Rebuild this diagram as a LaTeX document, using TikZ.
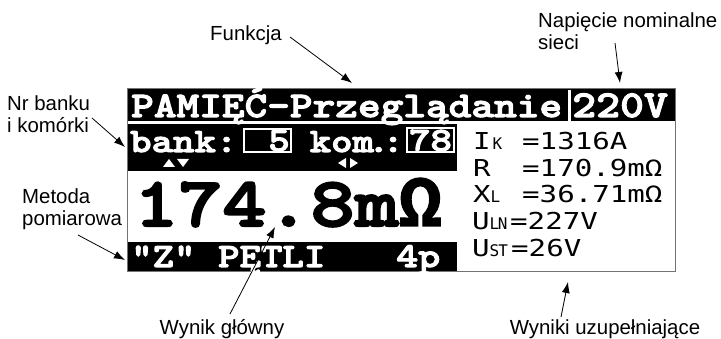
\documentclass[tikz,border=0pt]{standalone}
\usepackage{fontspec}
\setmainfont{Liberation Sans}
\newfontfamily\lcdmono[FakeStretch=1.2,FakeBold=3]{lmmonolt10-bold.otf}
\newfontfamily\lcdomega[FakeBold=1.5]{Liberation Mono}
\newfontfamily\lcdthin[FakeStretch=1.25]{DejaVu Sans Mono}
\newfontfamily\lcdsub{DejaVu Sans Mono}
\usetikzlibrary{arrows.meta}

\newcommand\lcdfont[1]{\lcdmono\fontsize{#1}{#1}\selectfont}
\newcommand\sub[1]{{\lcdsub\fontsize{16}{16}\selectfont #1}}

\tikzset{
	lbl/.style={font=\fontsize{20.4}{22}\selectfont, align=left, inner sep=0pt},
	ptr/.style={-{Latex[length=11pt,width=8pt]}, line width=0.8pt},
	lcd/.style={text=white, inner sep=0pt, anchor=base west},
	res/.style={inner sep=0pt, anchor=base west, font=\lcdthin\fontsize{23.3}{24}\selectfont},
}

\begin{document}
\begin{tikzpicture}[x=1pt,y=-1pt]
			\useasboundingbox (0,0) rectangle (721,339);
			
			\fill[black] (128,89) rectangle (675,121);
			\fill[white] (568,90) rectangle (570.5,121);
			\fill[black] (128,124) rectangle (457,171);
			\fill[black] (128,242) rectangle (457,272);
			\draw[black!55, line width=1pt] (127.5,88.5) rectangle (675,272);
			
			\node[lcd, font=\lcdfont{36}] (title) at (131,117) {PAMIĘĆ-Przeglądanie};
			\node[lcd, font=\lcdfont{38}] (nominal) at (572,117) {220V};
			
			\node[lcd, font=\lcdfont{34}] (bank) at (130,152) {bank:};
			\draw[white, line width=2pt] (244,129) rectangle (291,152);
			\node[lcd, font=\lcdfont{34}, anchor=base east] (banknr) at (290,151) {5};
			\node[lcd, font=\lcdfont{34}, anchor=base east] (kom) at (404,152) {kom\kern-6pt.\kern-7pt:};
			\draw[white, line width=2pt] (407,128) rectangle (454,152);
			\node[lcd, font=\lcdfont{34}, anchor=base] (komnr) at (430.5,151) {78};
			\fill[white] (163,167) -- (175,167) -- (169,159) -- cycle;
			\fill[white] (177,159) -- (189,159) -- (183,167) -- cycle;
			\fill[white] (338,163) -- (346,158) -- (346,168) -- cycle;
			\fill[white] (350,158) -- (350,168) -- (358,163) -- cycle;
			
			\node[lcd, text=black, font=\lcdfont{70}] (main) at (134,226) {174.8m{\lcdomega\bfseries\fontsize{72}{72}\selectfont Ω}};
			
			\node[lcd, font=\lcdfont{34}] (method) at (131,267) {"Z"};
			\node[lcd, font=\lcdfont{34}] (loop) at (218,267) {PĘTLI};
			\node[lcd, font=\lcdfont{35}] (poles) at (396,267) {4p};
			
			\node[res] (ik) at (473,150) {I\kern2pt\sub{K}};
			\node[res] (ikv) at (522,150) {=1316A};
			\node[res] (r) at (473,176.5) {R};
			\node[res] (rv) at (522,176.5) {=170.9mΩ};
			\node[res] (xl) at (473,203) {X\sub{L}};
			\node[res] (xlv) at (522,203) {=36.71mΩ};
			\node[res] (uln) at (472,230) {U\sub{L\kern-1.5pt N}};
			\node[res] (ulnv) at (510,230) {=227V};
			\node[res] (ust) at (472,257) {U\sub{S\kern-1pt T}};
			\node[res] (ustv) at (511,257) {=26V};
			
			\node[lbl, anchor=base west] (funkcja) at (210,41) {Funkcja};
			\node[lbl, anchor=base west] (napiecie) at (538,50) {Napięcie nominalne\\sieci};
			\node[lbl, anchor=base west] (nrbanku) at (7,133) {Nr banku\\i komórki};
			\node[lbl, anchor=base west] (metoda) at (22,226) {Metoda\\pomiarowa};
			\node[lbl, anchor=base] (wynik) at (222,335) {Wynik główny};
			\node[lbl, anchor=base] (wyniki) at (605,335) {Wyniki uzupełniające};
			
			\coordinate (funkcjaTip) at (352,83);
			\coordinate (napiecieTip) at (620,83);
			\coordinate (nrbankuTip) at (125,147);
			\coordinate (metodaTip) at (125,260);
			\coordinate (wynikTip) at (275,227);
			\coordinate (wynikiTip) at (568,282);
			
			\draw[ptr] ([shift={(80,-4)}]funkcja.base west) -- (funkcjaTip);
			\draw[ptr] ([shift={(77,-7)}]napiecie.base west) -- (napiecieTip);
			\draw[ptr] ([shift={(85,-15)}]nrbanku.base west) -- (nrbankuTip);
			\draw[ptr] ([shift={(56,9)}]metoda.base west) -- (metodaTip);
			\draw[ptr] ([shift={(8,-21)}]wynik.base) -- (wynikTip);
			\draw[ptr] ([shift={(-44,-18)}]wyniki.base) -- (wynikiTip);
\end{tikzpicture}
\end{document}
